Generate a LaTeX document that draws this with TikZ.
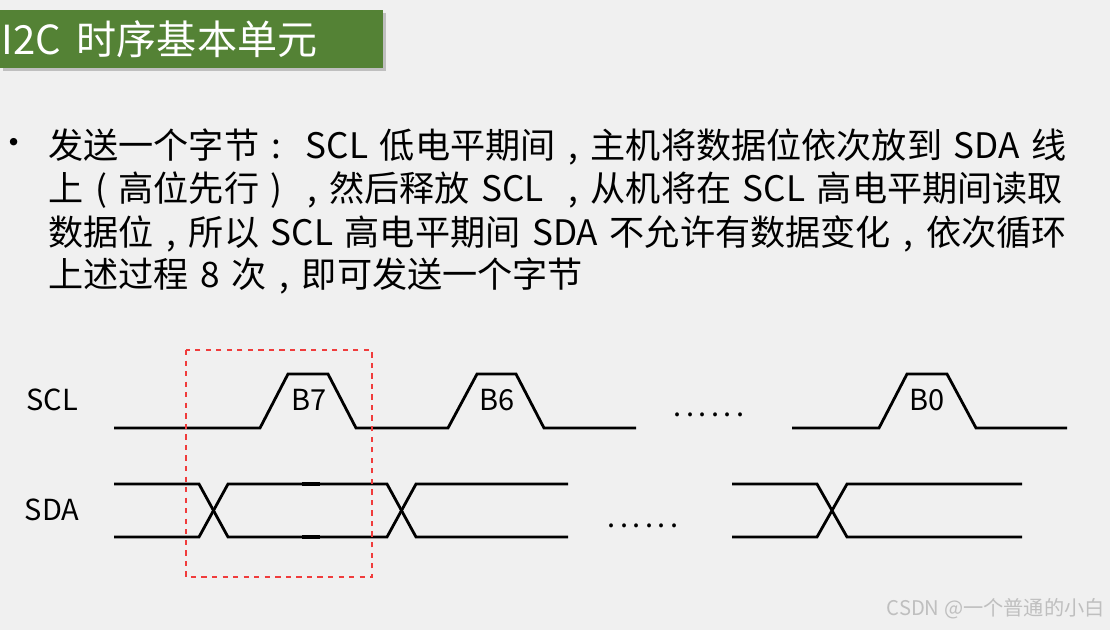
\documentclass[tikz,border=0pt]{standalone}
\usepackage{fontspec}
\setmainfont{Noto Sans CJK SC}
\usepackage{tikz}
\usetikzlibrary{positioning}
\definecolor{pagebg}{HTML}{F0F0F0}
\definecolor{titlegreen}{HTML}{548235}
\definecolor{boxred}{HTML}{F03C3C}
% full-width cells with centred punctuation
\newcommand{\fwc}{\makebox[1em]{,}}
\newcommand{\fwcol}{\makebox[1em]{:}}
\newcommand{\fwl}{\makebox[1em]{(}}
\newcommand{\fwr}{\makebox[1em]{)}}
\newcommand{\dotrow}{.\kern2.6pt.\kern2.6pt.\kern2.6pt.\kern2.6pt.\kern2.6pt.}
\newcommand{\bodyfont}{\fontsize{20}{22}\selectfont\spaceskip=0.33em\relax}
\tikzset{
  sigline/.style  ={line width=1.6pt,line join=miter},
  hilite/.style   ={draw=boxred,dashed,line width=0.8pt},
  lbl/.style      ={inner sep=0pt,font=\fontsize{16.5}{18}\selectfont},
  bodytxt/.style  ={anchor=base west,inner sep=0pt,font=\bodyfont},
}
\begin{document}
\begin{tikzpicture}[x=0.02cm,y=-0.02cm]
% Page
\fill[pagebg] (0,0) rectangle (1110,630);
\useasboundingbox (0,0) rectangle (1110,630);
% Title bar
\fill[black!25] (3,13) rectangle (386,71);
\fill[titlegreen] (0,10) rectangle (383,68);
\node[anchor=base west,inner sep=0pt,text=white,font=\fontsize{22.8}{24}\selectfont] (ttl) at (1,54) {I2C\hspace{0.4em}时序基本单元};
% Bullet text
\node[inner sep=0pt,font=\fontsize{20}{20}\selectfont] (dot) at (14,147) {•};
\node[bodytxt] (ln1) at (48,158) {发送一个字节\fwcol{} SCL 低电平期间\fwc{}主机将数据位依次放到 SDA 线};
\node[bodytxt] (ln2) at (48,201) {上\fwl{}高位先行\fwr\fwc{}然后释放 SCL \fwc{}从机将在 SCL 高电平期间读取};
\node[bodytxt] (ln3) at (48,245) {数据位\fwc{}所以 SCL 高电平期间 SDA 不允许有数据变化\fwc{}依次循环};
\node[bodytxt] (ln4) at (48,287) {上述过程 8 次\fwc{}即可发送一个字节};
% Signal names
\node[lbl] (sclLbl) at (52,400) {SCL};
\node[lbl] (sdaLbl) at (52,510) {SDA};
% SCL
\draw[sigline] (114,428) -- (260,428) -- (288,374) -- (328,374) -- (356,428) -- (448,428)
  -- (477,374) -- (516,374) -- (544,428) -- (636,428);
\draw[sigline] (792,428) -- (879,428) -- (907,374) -- (947,374) -- (976,428) -- (1067,428);
\node[lbl] (b7) at (309,400) {B7};
\node[lbl] (b6) at (497,400) {B6};
\node[lbl] (b0) at (927,400) {B0};
\node[lbl,anchor=base] (sclDots) at (709,416) {\dotrow};
% SDA
\draw[sigline] (114,484) -- (199,484) -- (228,537) -- (387,537) -- (416,484) -- (568,484);
\draw[sigline] (114,537) -- (199,537) -- (228,484) -- (387,484) -- (416,537) -- (568,537);
\draw[line width=2.2pt] (302,484) -- (320,484) (302,537) -- (320,537);
\draw[sigline] (732,484) -- (817,484) -- (847,537) -- (1022,537);
\draw[sigline] (732,537) -- (817,537) -- (847,484) -- (1022,484);
\node[lbl,anchor=base] (sdaDots) at (643,527) {\dotrow};
% Highlighted bit slot
\draw[hilite] (186,350) rectangle (372,577);
% Watermark
\node[anchor=east,inner sep=0pt,text=black!25,font=\fontsize{11.5}{13}\selectfont] (wmark) at (1105,609) {CSDN @一个普通的小白};
\end{tikzpicture}
\end{document}
